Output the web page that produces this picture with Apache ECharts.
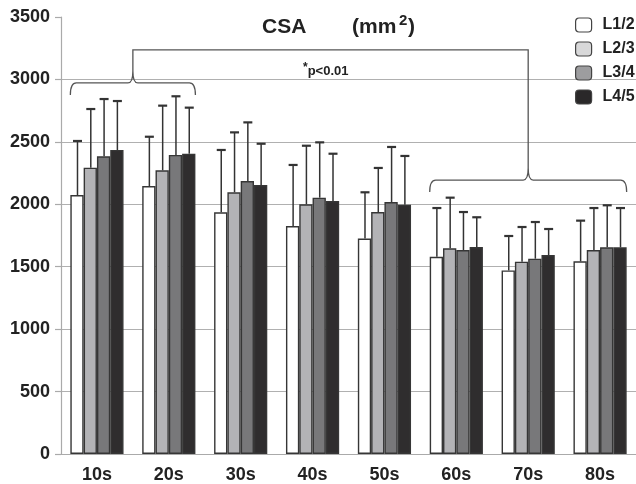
<!DOCTYPE html>
<html>
<head>
<meta charset="utf-8">
<script src="https://cdn.jsdelivr.net/npm/echarts@6/dist/echarts.min.js"></script>
<style>
html,body{margin:0;padding:0;background:#fff;}
#c{width:636px;height:484px;}
</style>
</head>
<body>
<div id="c"></div>
<script>
var categories = ['10s', '20s', '30s', '40s', '50s', '60s', '70s', '80s'];
var seriesNames = ['L1/2', 'L2/3', 'L3/4', 'L4/5'];
var meanL12 = [2074, 2146, 1936, 1826, 1726, 1580, 1470, 1543];
var meanL23 = [2293, 2272, 2096, 2000, 1938, 1647, 1540, 1634];
var meanL34 = [2384, 2395, 2186, 2053, 2018, 1634, 1564, 1655];
var meanL45 = [2435, 2405, 2154, 2026, 1997, 1658, 1594, 1655];
var sdL12 = [433, 395, 499, 489, 370, 390, 276, 326];
var sdL23 = [470, 518, 480, 469, 353, 406, 278, 336];
var sdL34 = [459, 470, 470, 443, 441, 304, 294, 337];
var sdL45 = [392, 369, 331, 379, 390, 238, 208, 315];
var yTicks = [0, 500, 1000, 1500, 2000, 2500, 3000, 3500];
// braces: groups spanned (category indices) and level (value)
var braceLeft = { from: 0, to: 1, level: 2972 };
var braceRight = { from: 5, to: 7, level: 2194 };
var bracketLevel = 3236;

var means = [meanL12, meanL23, meanL34, meanL45];
var sds = [sdL12, sdL23, sdL34, sdL45];
var barColors = ['#ffffff', '#b3b3b6', '#78787a', '#2f2d2e'];
var legendColors = ['#ffffff', '#d8d8d9', '#9d9d9f', '#2a2829'];
var CAT_GAP = 0.26;
var FONT = '"Liberation Sans Narrow", "Liberation Sans", Arial, sans-serif';

var chart = echarts.init(document.getElementById('c'), null, { renderer: 'canvas' });

var series = seriesNames.map(function (n, i) {
  return {
    name: n,
    type: 'bar',
    data: means[i],
    barGap: '0%',
    barCategoryGap: (CAT_GAP * 100) + '%',
    itemStyle: { color: barColors[i], borderColor: '#363636', borderWidth: 1.4 },
    emphasis: { disabled: true },
    z: 2
  };
});

var errData = [];
for (var s = 0; s < 4; s++) {
  for (var c = 0; c < categories.length; c++) {
    errData.push([c, s, means[s][c], sds[s][c]]);
  }
}

series.push({
  type: 'custom',
  name: 'err',
  data: errData,
  z: 5,
  silent: true,
  renderItem: function (params, api) {
    var cat = api.value(0), s = api.value(1), m = api.value(2), sd = api.value(3);
    var band = api.size([1, 0])[0];
    var bw = band * (1 - CAT_GAP) / 4;
    var base = api.coord([cat, m]);
    var top = api.coord([cat, m + sd]);
    var x = base[0] + (s - 1.5) * bw + 0.5;
    var cap = 4.5;
    return {
      type: 'group',
      children: [
        { type: 'line', shape: { x1: x, y1: base[1], x2: x, y2: top[1] }, style: { stroke: '#333', lineWidth: 1.5 } },
        { type: 'line', shape: { x1: x - cap, y1: top[1], x2: x + cap, y2: top[1] }, style: { stroke: '#333', lineWidth: 2.2 } }
      ]
    };
  },
  encode: { x: 0, y: 2 }
});

function bracePath(x0, x1, y, drop, rise) {
  var xm = (x0 + x1) / 2, r = 6, rt = 5;
  return 'M' + x0 + ',' + (y + drop) +
    ' Q' + x0 + ',' + y + ' ' + (x0 + r) + ',' + y +
    ' L' + (xm - rt) + ',' + y +
    ' Q' + xm + ',' + y + ' ' + xm + ',' + (y - rise) +
    ' Q' + xm + ',' + y + ' ' + (xm + rt) + ',' + y +
    ' L' + (x1 - r) + ',' + y +
    ' Q' + x1 + ',' + y + ' ' + x1 + ',' + (y + drop);
}

series.push({
  type: 'custom',
  name: 'ann',
  data: [[0, 0]],
  z: 6,
  silent: true,
  renderItem: function (params, api) {
    var band = api.size([1, 0])[0];
    var half = band * (1 - CAT_GAP) / 2;
    var lA = api.coord([braceLeft.from, braceLeft.level]);
    var lB = api.coord([braceLeft.to, braceLeft.level]);
    var rA = api.coord([braceRight.from, braceRight.level]);
    var rB = api.coord([braceRight.to, braceRight.level]);
    var top = api.coord([0, bracketLevel])[1];
    var drop = 12, rise = 12;
    var lx0 = lA[0] - half, lx1 = lB[0] + half, ly = lA[1];
    var rx0 = rA[0] - half, rx1 = rB[0] + half, ry = rA[1];
    var lm = (lx0 + lx1) / 2, rm = (rx0 + rx1) / 2;
    var st = { stroke: '#555', lineWidth: 1.3, fill: null };
    return {
      type: 'group',
      children: [
        { type: 'path', shape: { pathData: bracePath(lx0, lx1, ly, drop, rise) }, style: st },
        { type: 'path', shape: { pathData: bracePath(rx0, rx1, ry, drop, rise) }, style: st },
        { type: 'polyline', shape: { points: [[lm, ly - rise], [lm, top], [rm, top], [rm, ry - rise]] }, style: st }
      ]
    };
  },
  encode: { x: 0, y: 1 }
});

var titleStyle = { fontFamily: FONT, fontWeight: 'bold', fontSize: 21, color: '#222' };
var option = {
  animation: false,
  backgroundColor: '#ffffff',
  textStyle: { fontFamily: FONT },
  title: [
    { text: 'CSA', left: 257, top: 12, textStyle: titleStyle },
    { text: '(mm', left: 347, top: 12, textStyle: titleStyle },
    { text: '2', left: 394, top: 8, textStyle: { fontFamily: FONT, fontWeight: 'bold', fontSize: 15, color: '#222' } },
    { text: ')', left: 403, top: 12, textStyle: titleStyle },
    {
      text: '{st|*}p<0.01', left: 298, top: 57,
      textStyle: {
        fontFamily: FONT, fontWeight: 'bold', fontSize: 13, color: '#222',
        rich: { st: { fontFamily: FONT, fontWeight: 'bold', fontSize: 12, color: '#222', padding: [0, 0, 6, 0] } }
      }
    }
  ],
  legend: {
    data: seriesNames.map(function (n, i) { return { name: n, itemStyle: { color: legendColors[i], borderColor: '#444', borderWidth: 1.2 } }; }),
    orient: 'vertical',
    left: 575, top: 17,
    padding: 0,
    itemWidth: 16, itemHeight: 14, itemGap: 8,
    icon: 'roundRect',
    textStyle: { fontFamily: FONT, fontWeight: 'bold', fontSize: 16, color: '#222', padding: [0, 0, 0, 6] },
    selectedMode: false
  },
  grid: { left: 61, right: -2, top: 17, bottom: 30, containLabel: false },
  xAxis: {
    type: 'category',
    data: categories,
    axisLine: { lineStyle: { color: '#aaa', width: 1.2 } },
    axisTick: { show: false },
    axisLabel: { fontFamily: FONT, fontWeight: 'bold', fontSize: 18, color: '#222', margin: 12 }
  },
  yAxis: {
    type: 'value',
    min: yTicks[0], max: yTicks[yTicks.length - 1], interval: 500,
    axisLine: { show: true, lineStyle: { color: '#aaa', width: 1.2 } },
    axisTick: { show: true, length: 6, lineStyle: { color: '#aaa', width: 1.2 } },
    axisLabel: { fontFamily: FONT, fontWeight: 'bold', fontSize: 18, color: '#222', margin: 11, formatter: function (v) { return String(v); } },
    splitLine: { show: true, lineStyle: { color: ['#b0b0b0', '#b0b0b0', '#b0b0b0', '#b0b0b0', '#b0b0b0', '#b0b0b0', '#b0b0b0', 'rgba(0,0,0,0)'], width: 1.2 } }
  },
  series: series
};
chart.setOption(option);
</script>
</body>
</html>
